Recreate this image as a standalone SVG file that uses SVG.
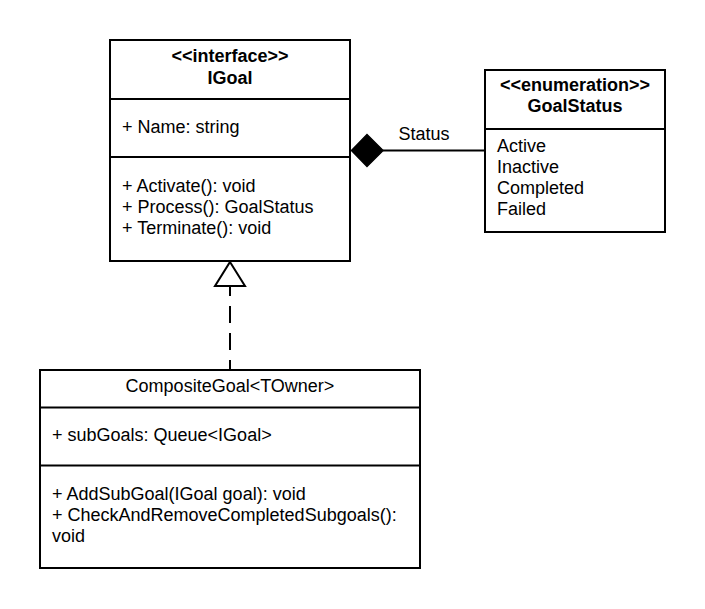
<svg xmlns="http://www.w3.org/2000/svg" width="705" height="609" viewBox="0 0 705 609">
<style>
  .box { fill: #ffffff; stroke: #000000; stroke-width: 2; }
  .div { stroke: #000000; stroke-width: 2; fill: none; }
  text { font-family: "Liberation Sans", Arial, sans-serif; font-size: 18px; fill: #000000; }
  .b { font-weight: bold; }
  .c { text-anchor: middle; }
  .edge { stroke: #000000; stroke-width: 2; fill: none; }
</style>
<rect width="705" height="609" fill="#ffffff"/>
<g id="connectors">
  <line class="edge" x1="383" y1="150.5" x2="485" y2="150.5"/>
  <polygon points="351.5,150.5 367,134.5 383,150.5 367,166.5" fill="#000000" stroke="#000000" stroke-width="1.5"/>
  <text x="424" y="139.5" class="c">Status</text>
  <line class="edge" x1="230" y1="286" x2="230" y2="370" stroke-dasharray="17 10" stroke-dashoffset="7"/>
  <polygon points="230,262 245,286 215,286" fill="#ffffff" stroke="#000000" stroke-width="2"/>
</g>
<g id="IGoal">
  <rect class="box" x="110" y="40" width="240" height="221"/>
  <line class="div" x1="110" y1="99" x2="350" y2="99"/>
  <line class="div" x1="110" y1="157" x2="350" y2="157"/>
  <text x="230" y="62" class="b c">&lt;&lt;interface&gt;&gt;</text>
  <text x="230" y="83.5" class="b c">IGoal</text>
  <text x="122" y="133">+ Name: string</text>
  <text x="122" y="191.5">+ Activate(): void</text>
  <text x="122" y="212.5">+ Process(): GoalStatus</text>
  <text x="122" y="233.5">+ Terminate(): void</text>
</g>
<g id="GoalStatus">
  <rect class="box" x="485" y="70" width="180" height="162"/>
  <line class="div" x1="485" y1="129" x2="665" y2="129"/>
  <text x="575" y="90.5" class="b c">&lt;&lt;enumeration&gt;&gt;</text>
  <text x="575" y="112" class="b c">GoalStatus</text>
  <text x="497" y="151.5">Active</text>
  <text x="497" y="172.5">Inactive</text>
  <text x="497" y="193.5">Completed</text>
  <text x="497" y="215">Failed</text>
</g>
<g id="CompositeGoal">
  <rect class="box" x="40" y="370" width="380" height="198"/>
  <line class="div" x1="40" y1="407.5" x2="420" y2="407.5"/>
  <line class="div" x1="40" y1="465.5" x2="420" y2="465.5"/>
  <text x="230" y="391.5" class="c">CompositeGoal&lt;TOwner&gt;</text>
  <text x="52" y="440.5">+ subGoals: Queue&lt;IGoal&gt;</text>
  <text x="52" y="499.5">+ AddSubGoal(IGoal goal): void</text>
  <text x="52" y="520.5">+ CheckAndRemoveCompletedSubgoals():</text>
  <text x="52" y="541.5">void</text>
</g>
</svg>
